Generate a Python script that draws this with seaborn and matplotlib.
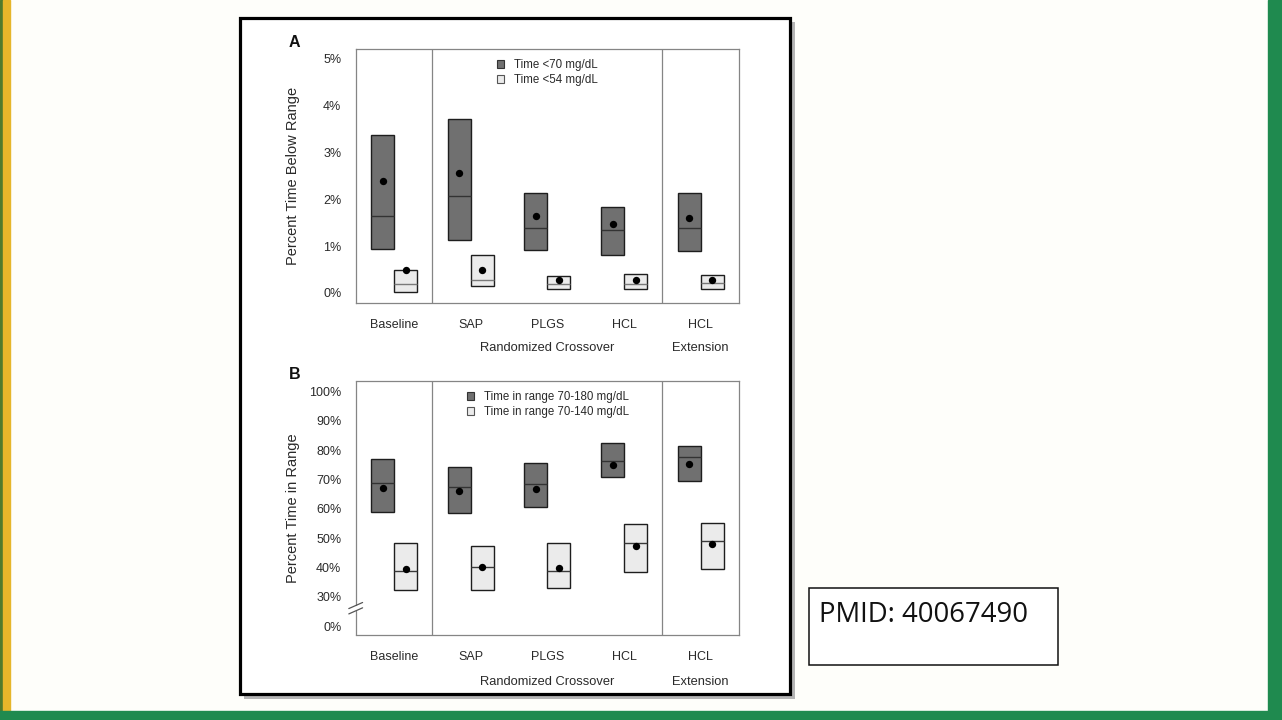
import matplotlib.pyplot as plt
import numpy as np
import pandas as pd
import seaborn as sns
from matplotlib.patches import Patch, Rectangle

""" Data read off the slide """
groups = ["Baseline", "SAP", "PLGS", "HCL", "HCL"]
group_pos = [1, 2, 3, 4, 5]
period_labels = ["Randomized Crossover", "Extension"]
period_pos = [3, 5]

# Panel A: percent time below range
tbr70_q1 = [0.93, 1.14, 0.92, 0.81, 0.89]
tbr70_q3 = [3.37, 3.71, 2.13, 1.84, 2.13]
tbr70_median = [1.64, 2.06, 1.38, 1.34, 1.39]
tbr70_mean = [2.40, 2.57, 1.64, 1.47, 1.60]
tbr54_q1 = [0.02, 0.15, 0.085, 0.085, 0.09]
tbr54_q3 = [0.485, 0.81, 0.36, 0.40, 0.38]
tbr54_median = [0.18, 0.285, 0.18, 0.18, 0.21]
tbr54_mean = [0.48, 0.49, 0.28, 0.28, 0.28]
a_ticks = [0, 1, 2, 3, 4, 5]
a_ticklabels = ["0%", "1%", "2%", "3%", "4%", "5%"]

# Panel B: percent time in range (axis broken below 30%)
tir180_q1 = [59.0, 58.5, 60.5, 70.8, 69.5]
tir180_q3 = [77.0, 74.3, 75.8, 82.4, 81.5]
tir180_median = [68.75, 67.4, 68.6, 76.4, 77.8]
tir180_mean = [67.0, 66.25, 66.8, 75.0, 75.2]
tir140_q1 = [32.3, 32.4, 33.2, 38.5, 39.7]
tir140_q3 = [48.3, 47.5, 48.3, 54.8, 55.1]
tir140_median = [38.75, 40.3, 39.0, 48.3, 49.2]
tir140_mean = [39.5, 40.2, 39.9, 47.4, 48.2]
b_ticks = [20, 30, 40, 50, 60, 70, 80, 90, 100]
b_ticklabels = ["0%", "30%", "40%", "50%", "60%", "70%", "80%", "90%", "100%"]

""" Style """
sns.set_style("white")
plt.rcParams["font.family"] = ["Liberation Sans", "DejaVu Sans"]
W, H = 1282, 720
slide_bg = "#fefefa"
dark_fill, light_fill = "#707070", "#ebebeb"
frame_grey = "#858585"
text_col = "#2a2a2a"


def fx(x):
    return x / W


def fy(y):
    return 1 - y / H


def make_frame(q1, q3, med, mean, series):
    return pd.DataFrame(
        {"pos": group_pos, "q1": q1, "q3": q3, "median": med, "mean": mean, "series": series}
    )


def box_panel(ax, dark, light, ylim, ticks, ticklabels, ylabel, legend_labels, letter,
              light_median="#3a3a3a", period_y=-0.18):
    df = pd.concat([dark, light], ignore_index=True)
    df["left"] = df["pos"] + np.where(df["series"] == "dark", -0.3, 0.0)
    df["right"] = df["left"] + 0.3
    df["xc"] = df["left"] + 0.15

    for series, fill, med_col in (("dark", dark_fill, "#333333"), ("light", light_fill, light_median)):
        sub = df[df["series"] == series]
        ax.bar(sub["left"], sub["q3"] - sub["q1"], bottom=sub["q1"], width=0.3,
               align="edge", color=fill, edgecolor="#1e1e1e", linewidth=1.0, zorder=2)
        ax.hlines(sub["median"], sub["left"], sub["right"], color=med_col,
                  linewidth=1.0, zorder=3)
    sns.scatterplot(data=df, x="xc", y="mean", color="black", s=28, linewidth=0,
                    legend=False, ax=ax, zorder=4)

    ax.set_xlim(0.5, 5.5)
    ax.set_ylim(*ylim)
    ax.set_xticks(group_pos)
    ax.set_xticklabels(groups)
    ax.set_yticks(ticks)
    ax.set_yticklabels(ticklabels)
    ax.set_xlabel("")
    ax.set_ylabel(ylabel, fontsize=10.5, color=text_col)
    ax.yaxis.set_label_coords(-0.145, 0.5)
    for x in (1.5, 4.5):
        ax.axvline(x, color=frame_grey, linewidth=0.9, zorder=1)
    for s in ax.spines.values():
        s.set_color(frame_grey)
        s.set_linewidth(0.9)
    ax.tick_params(axis="both", direction="out", length=5.3, width=0.9, color=frame_grey,
                   labelsize=9, labelcolor=text_col)
    ax.tick_params(axis="y", pad=5)
    ax.tick_params(axis="x", pad=6.5)
    for lab, x in zip(period_labels, period_pos):
        ax.text(x, period_y, lab, transform=ax.get_xaxis_transform(), ha="center",
                va="center", fontsize=9.3, color=text_col)
    handles = [Patch(facecolor=dark_fill, edgecolor="#333333", linewidth=0.8),
               Patch(facecolor=light_fill, edgecolor="#555555", linewidth=0.8)]
    ax.legend(handles, legend_labels, loc="upper left", frameon=False, fontsize=8.3,
              handlelength=0.6, handleheight=0.6, handletextpad=0.9, labelspacing=0.25,
              borderaxespad=0, borderpad=0, labelcolor=text_col)
    ax.text(-0.16, 1.025, letter, transform=ax.transAxes, fontsize=11.5,
            fontweight="bold", color="#111111", va="center", ha="center")


fig = plt.figure(figsize=(W / 100, H / 100), dpi=100, facecolor=slide_bg)

# slide decoration
fig.add_artist(Rectangle((0, 0), fx(3), 1, transform=fig.transFigure, color="#4f7a2c", zorder=-3))
fig.add_artist(Rectangle((fx(3), 0), fx(7), 1, transform=fig.transFigure, color="#e6b62a", zorder=-3))
fig.add_artist(Rectangle((fx(1268), 0), fx(14), 1, transform=fig.transFigure, color="#1f8a4f", zorder=-3))
fig.add_artist(Rectangle((0, 0), 1, fy(711), transform=fig.transFigure, color="#1f8a4f", zorder=6))
# figure panel: white card, cropped bottom edge, shadow and black frame
fig.add_artist(Rectangle((fx(240), fy(694)), fx(550), fy(18) - fy(694), transform=fig.transFigure,
                         facecolor="white", edgecolor="none", zorder=-2))
fig.add_artist(Rectangle((fx(242), fy(692)), fx(546), fy(685.5) - fy(692), transform=fig.transFigure,
                         facecolor="white", edgecolor="none", zorder=3))
fig.add_artist(Rectangle((fx(236), fy(711)), fx(560), fy(692) - fy(711), transform=fig.transFigure,
                         facecolor=slide_bg, edgecolor="none", zorder=3))
fig.add_artist(Rectangle((fx(790), fy(699)), fx(5), fy(22) - fy(699), transform=fig.transFigure,
                         facecolor="#b5b5b5", edgecolor="none", zorder=3.5))
fig.add_artist(Rectangle((fx(244), fy(699)), fx(551), fy(694) - fy(699), transform=fig.transFigure,
                         facecolor="#b5b5b5", edgecolor="none", zorder=3.5))
fig.add_artist(Rectangle((fx(240), fy(694)), fx(550), fy(18) - fy(694), transform=fig.transFigure,
                         facecolor="none", edgecolor="black", linewidth=2.3, zorder=4))

ax_a = fig.add_axes([fx(355.7), fy(302.7), fx(383.3), fy(49) - fy(302.7)])
ax_b = fig.add_axes([fx(355.7), fy(635), fx(383.3), fy(381) - fy(635)])
for ax in (ax_a, ax_b):
    ax.set_facecolor("none")

box_panel(ax_a,
          make_frame(tbr70_q1, tbr70_q3, tbr70_median, tbr70_mean, "dark"),
          make_frame(tbr54_q1, tbr54_q3, tbr54_median, tbr54_mean, "light"),
          (-0.21, 5.21), a_ticks, a_ticklabels, "Percent Time Below Range",
          ["Time <70 mg/dL", "Time <54 mg/dL"], "A", light_median="#7a7a7a", period_y=-0.179)
ax_a.get_legend().set_bbox_to_anchor((0.368, 0.96))

box_panel(ax_b,
          make_frame(tir180_q1, tir180_q3, tir180_median, tir180_mean, "dark"),
          make_frame(tir140_q1, tir140_q3, tir140_median, tir140_mean, "light"),
          (17.05, 103.6), b_ticks, b_ticklabels, "Percent Time in Range",
          ["Time in range 70-180 mg/dL", "Time in range 70-140 mg/dL"], "B", period_y=-0.187)
ax_b.get_legend().set_bbox_to_anchor((0.29, 0.96))

# broken y axis in panel B
ax_b.spines["left"].set_visible(False)
brk_lo, brk_hi = 0.095, 0.12
ax_b.plot([0, 0], [0, brk_lo], transform=ax_b.transAxes, color=frame_grey, lw=0.9, clip_on=False)
ax_b.plot([0, 0], [brk_hi, 1], transform=ax_b.transAxes, color=frame_grey, lw=0.9, clip_on=False)
for dy in (brk_lo, brk_hi - 0.004):
    ax_b.plot([-0.018, 0.018], [dy - 0.012, dy + 0.012], transform=ax_b.transAxes,
              color="#555555", lw=0.9, clip_on=False)

# citation box
fig.add_artist(Rectangle((fx(809), fy(665)), fx(249), fy(588) - fy(665), transform=fig.transFigure,
                         facecolor="white", edgecolor="#111111", linewidth=1.1, zorder=2))
fig.text(fx(819), fy(622.5), "PMID: 40067490", fontsize=19.8, family=["Open Sans", "DejaVu Sans"],
         color="#111111", ha="left", va="baseline", zorder=3)

plt.savefig("out.png", dpi=100, facecolor=slide_bg)
